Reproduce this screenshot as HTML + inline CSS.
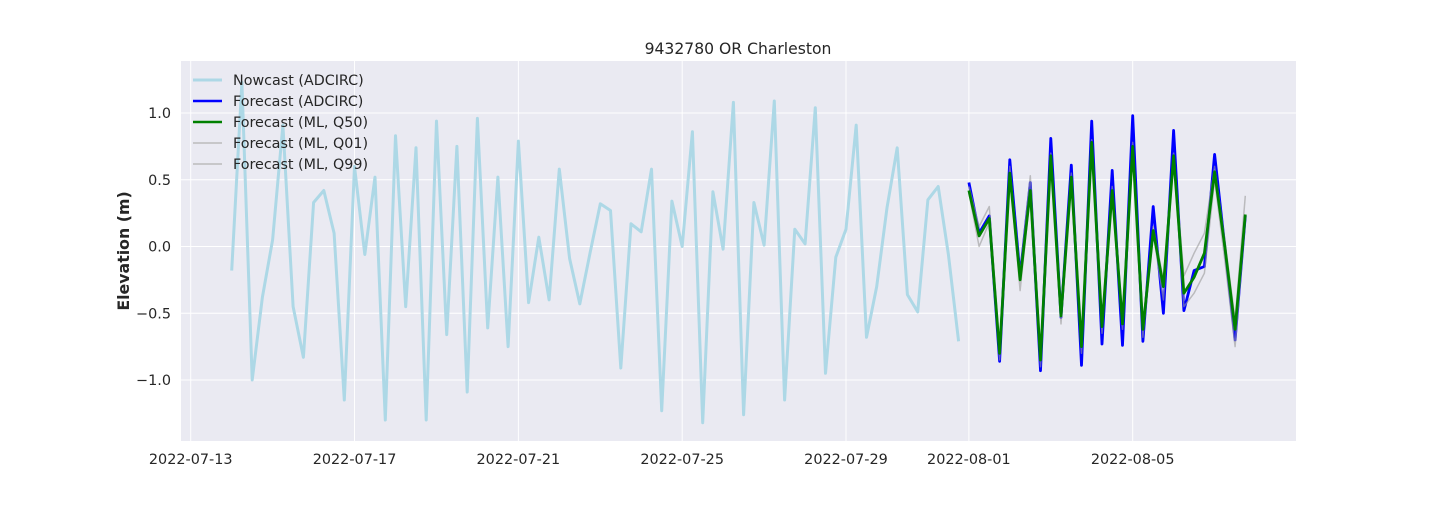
<!DOCTYPE html>
<html><head><meta charset="utf-8"><style>
body{margin:0;background:#fff;}
svg text{font-family:"DejaVu Sans","Liberation Sans",sans-serif;fill:#262626;}
</style></head><body>
<svg id="chart" width="1440" height="504" viewBox="0 0 1440 504" xmlns="http://www.w3.org/2000/svg">
<rect x="181" y="61" width="1115" height="380" fill="#eaeaf2"/>
<g id="grid"></g>
<g id="series"></g>
<g id="ticks"></g>
<text x="738" y="54" text-anchor="middle" font-size="15.6">9432780 OR Charleston</text>
<text transform="translate(129,251) rotate(-90)" text-anchor="middle" font-size="15.8" font-weight="bold">Elevation (m)</text>
<g id="legend"></g>
</svg>
<script>
const nowcast=[-0.18,1.23,-1.00,-0.38,0.05,0.91,-0.45,-0.83,0.33,0.42,0.10,-1.15,0.60,-0.06,0.52,-1.30,0.83,-0.45,0.74,-1.30,0.94,-0.66,0.75,-1.09,0.96,-0.61,0.52,-0.75,0.79,-0.42,0.07,-0.40,0.58,-0.09,-0.43,-0.05,0.32,0.27,-0.91,0.17,0.11,0.58,-1.23,0.34,0.00,0.86,-1.32,0.41,-0.02,1.08,-1.26,0.33,0.01,1.09,-1.15,0.13,0.02,1.04,-0.95,-0.08,0.13,0.91,-0.68,-0.30,0.29,0.74,-0.36,-0.49,0.35,0.45,-0.06,-0.71];
const fcAdcirc=[0.48,0.10,0.23,-0.86,0.65,-0.22,0.48,-0.93,0.81,-0.53,0.61,-0.89,0.94,-0.73,0.57,-0.74,0.98,-0.71,0.30,-0.50,0.87,-0.48,-0.18,-0.15,0.69,0.00,-0.70,0.23];
const fcQ50=[0.42,0.08,0.21,-0.80,0.55,-0.25,0.42,-0.85,0.68,-0.52,0.52,-0.75,0.78,-0.60,0.42,-0.58,0.75,-0.62,0.12,-0.30,0.68,-0.35,-0.23,-0.05,0.56,0.00,-0.62,0.24];
const fcQ01=[0.40,0.00,0.18,-0.85,0.55,-0.33,0.40,-0.90,0.65,-0.58,0.50,-0.80,0.75,-0.65,0.40,-0.62,0.72,-0.68,0.10,-0.40,0.65,-0.45,-0.35,-0.20,0.50,-0.10,-0.75,0.20];
const fcQ99=[0.45,0.15,0.30,-0.75,0.60,-0.20,0.53,-0.80,0.70,-0.48,0.55,-0.70,0.80,-0.55,0.45,-0.52,0.78,-0.58,0.15,-0.25,0.70,-0.22,-0.05,0.10,0.60,0.05,-0.55,0.38];
const nowStartDay=1, fcStartDay=19, stepDay=0.25;
const xTickDays=[0,4,8,12,16,19,23];
const xTickLabels=["2022-07-13","2022-07-17","2022-07-21","2022-07-25","2022-07-29","2022-08-01","2022-08-05"];
const yTicks=[-1.0,-0.5,0.0,0.5,1.0];

const NS="http://www.w3.org/2000/svg";
const X0=181,X1=1296,Y0=61,Y1=441,dMin=-0.2375,dMax=26.9875,vMin=-1.457,vMax=1.39;
const xs=d=>X0+(d-dMin)/(dMax-dMin)*(X1-X0);
const ys=v=>Y1-(v-vMin)/(vMax-vMin)*(Y1-Y0);
function mk(tag,attrs,parent){const e=document.createElementNS(NS,tag);for(const k in attrs)e.setAttribute(k,attrs[k]);parent.appendChild(e);return e;}
const grid=document.getElementById('grid'),ticks=document.getElementById('ticks'),ser=document.getElementById('series'),leg=document.getElementById('legend');
xTickDays.forEach((d,i)=>{
  const l=mk('line',{x1:xs(d),x2:xs(d),y1:Y0,y2:Y1,stroke:'#fff','stroke-width':1},grid);
  
  
  const t=mk('text',{x:xs(d),y:464,'text-anchor':'middle','font-size':14.4},ticks);
  t.textContent=xTickLabels[i];
  
  
});
yTicks.forEach(v=>{
  const l=mk('line',{x1:X0,x2:X1,y1:ys(v),y2:ys(v),stroke:'#fff','stroke-width':1},grid);
  
  
  const t=mk('text',{x:171,y:ys(v)+5,'text-anchor':'end','font-size':14.4},ticks);
  t.textContent=(v<0?'\u2212':'')+Math.abs(v).toFixed(1);
  
  
});
function line(arr,start,color,w,op,name){
  const pts=arr.map((v,i)=>xs(start+i*stepDay).toFixed(1)+','+ys(v).toFixed(1)).join(' ');
  const p=mk('polyline',{points:pts,fill:'none',stroke:color,'stroke-width':w,'stroke-opacity':op,'stroke-linejoin':'round'},ser);
  
  
}
line(nowcast,nowStartDay,'#add8e6',3,1,'nowcast-line');
line(fcAdcirc,fcStartDay,'#0000ff',2.8,1,'forecast-adcirc-line');
line(fcQ01,fcStartDay,'#999',1.5,0.6,'forecast-q01-line');
line(fcQ99,fcStartDay,'#999',1.5,0.6,'forecast-q99-line');
line(fcQ50,fcStartDay,'#008000',2.8,1,'forecast-q50-line');
const items=[['Nowcast (ADCIRC)','#add8e6',3,1],['Forecast (ADCIRC)','#0000ff',2.5,1],['Forecast (ML, Q50)','#008000',2.5,1],['Forecast (ML, Q01)','#bbb',1.5,1],['Forecast (ML, Q99)','#bbb',1.5,1]];
items.forEach((it,i)=>{
  const y=80+i*21;
  const l=mk('line',{x1:193,x2:222,y1:y,y2:y,stroke:it[1],'stroke-width':it[2]},leg);
  
  
  const t=mk('text',{x:233,y:y+5,'font-size':14.3},leg);
  t.textContent=it[0];
  
  
});
</script>
</body></html>
